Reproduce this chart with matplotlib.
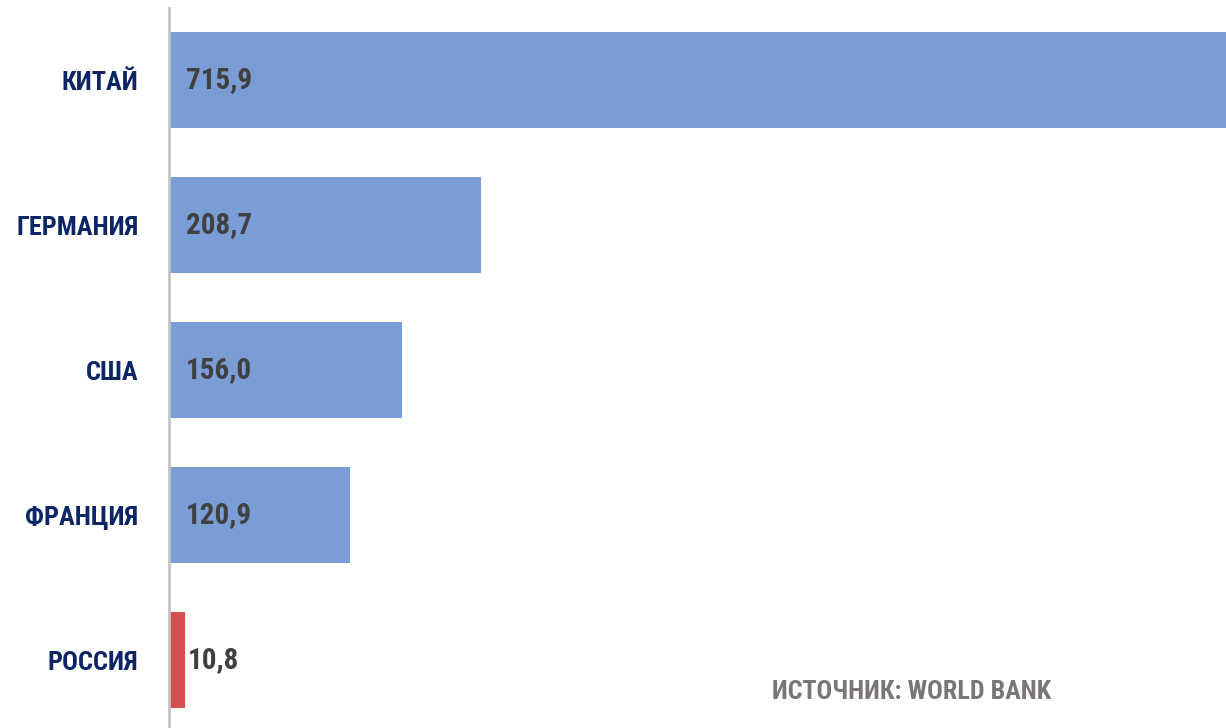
import matplotlib.pyplot as plt

countries = ['КИТАЙ', 'ГЕРМАНИЯ', 'США', 'ФРАНЦИЯ', 'РОССИЯ']
values = [715.9, 208.7, 156.0, 120.9, 10.8]
value_labels = ['715,9', '208,7', '156,0', '120,9', '10,8']
colors = ['#7b9dd6', '#7b9dd6', '#7b9dd6', '#7b9dd6', '#d44f4f']

font = ['Roboto Condensed', 'DejaVu Sans Condensed', 'Liberation Sans Narrow', 'Roboto', 'DejaVu Sans']

fig = plt.figure(figsize=(12.26, 7.28), dpi=100)
ax = fig.add_axes([169 / 1226, 0, 1 - 169 / 1226, 1 - 8 / 728])

pos = list(range(len(countries)))
ax.barh(pos, values, height=0.66, color=colors)

ax.set_xlim(0, 707)
ax.set_ylim(4.469, -0.497)

for p, v, lab in zip(pos, values, value_labels):
    x = v if v < 15 else 0
    ax.annotate(lab, (x, p), xytext=(2 if v < 15 else 12, 0), textcoords='offset points',
                va='center', ha='left', fontsize=21, fontweight='bold',
                color='#404040', family=font, fontstretch='condensed')

ax.set_yticks(pos)
ax.set_yticklabels(countries, fontsize=19, fontweight='bold', color='#0b2566',
                   family=font, fontstretch='condensed')
ax.tick_params(axis='y', length=0, pad=22)
ax.set_xticks([])

for s in ['top', 'right', 'bottom']:
    ax.spines[s].set_visible(False)
ax.spines['left'].set_color('#c4c4c4')
ax.spines['left'].set_linewidth(2)

fig.text(772 / 1226, 1 - 692 / 728, 'ИСТОЧНИК: WORLD BANK', fontsize=18.7, fontweight='bold',
         color='#7a7676', va='center', ha='left', family=font, fontstretch='condensed')

fig.savefig('out.png', dpi=100)
